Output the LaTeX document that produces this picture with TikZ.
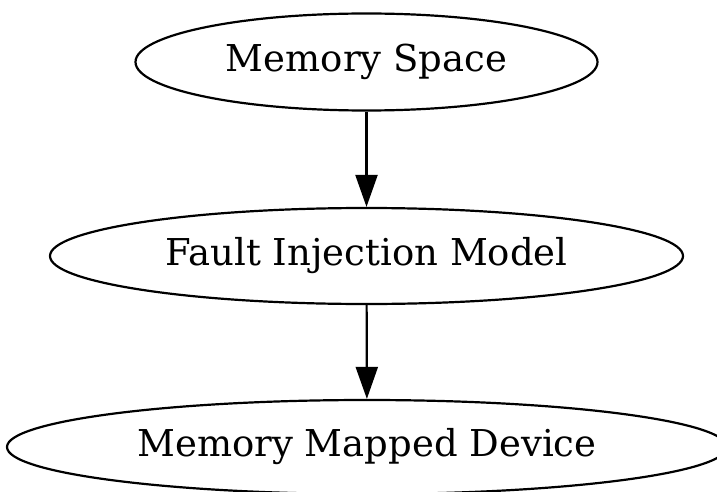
\documentclass[tikz,border=0pt]{standalone}
\usepackage{fontspec}
\setmainfont{DejaVu Serif}
\usetikzlibrary{shapes.geometric,arrows.meta}
\begin{document}
\begin{tikzpicture}[x=1pt,y=-1pt,
    blob/.style={draw, ellipse, line width=2.2pt, inner sep=0pt, font=\fontsize{37}{42}\selectfont},
    link/.style={line width=2.2pt, -{Triangle[length=32pt,width=22pt]}}]
      % Riquadro
      \useasboundingbox (0,0) rectangle (717,492);

      % Nodi
      \node[blob, minimum width=462pt, minimum height=97pt] (space) at (366.5,62) {Memory Space};
      \node[blob, minimum width=633pt, minimum height=96pt] (model) at (366.5,256) {Fault Injection Model};
      \node[blob, minimum width=720pt, minimum height=94pt] (device) at (367,447) {Memory Mapped Device};

      % Frecce
      \draw[link] (space) -- (model);
      \draw[link] (model) -- (device);
    \end{tikzpicture}
\end{document}
